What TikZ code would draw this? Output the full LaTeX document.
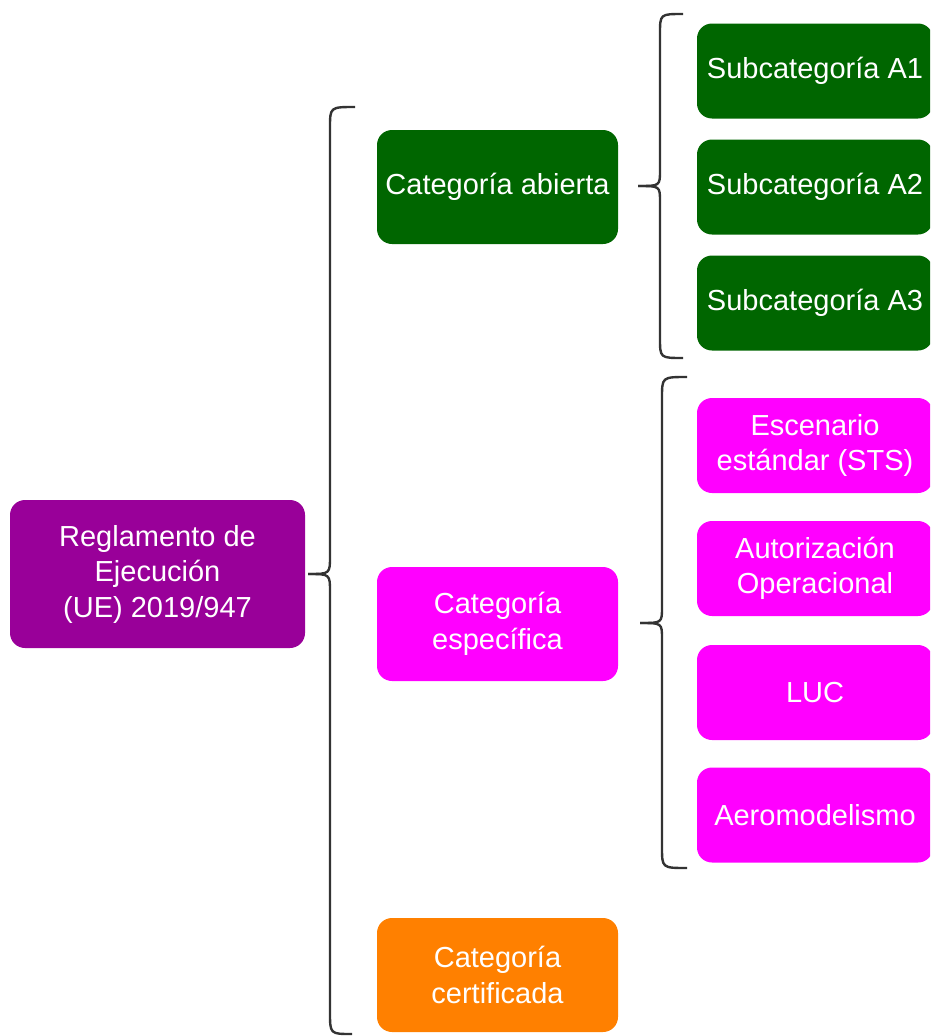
\documentclass[tikz,border=0pt]{standalone}
\usepackage{fontspec}
\setmainfont{Liberation Sans}
\begin{document}
\begin{tikzpicture}[x=1pt,y=-1pt,
  box/.style={draw=none, rounded corners=15pt, text=white, align=center,
    font=\fontsize{29}{35.5}\selectfont, inner sep=0pt},
  rootbox/.style={box, fill=rootc, minimum width=295pt, minimum height=148pt},
  catbox/.style={box, minimum width=241pt, minimum height=114pt},
  subbox/.style={box, minimum width=236pt, minimum height=95pt},
  bracec/.style={draw=bracecol, line width=2.4pt}]
\definecolor{rootc}{HTML}{990099}
\definecolor{greenc}{HTML}{006600}
\definecolor{magc}{HTML}{FF00FF}
\definecolor{orangec}{HTML}{FF8000}
\definecolor{bracecol}{HTML}{333333}
\useasboundingbox (0,0) rectangle (930,1036);
\clip (0,0) rectangle (930,1036);

\node[rootbox] (root) at (157.5,574) {Reglamento de\\Ejecución\\(UE) 2019/947};
\node[catbox, fill=greenc] (abierta) at (497.5,187) {Categoría abierta};
\node[catbox, fill=magc] (especifica) at (497.5,624) {Categoría\\específica};
\node[catbox, fill=orangec] (certificada) at (497.5,975) {Categoría\\certificada};

\node[subbox, fill=greenc] (a1) at (815,71) {Subcategoría A1};
\node[subbox, fill=greenc] (a2) at (815,187) {Subcategoría A2};
\node[subbox, fill=greenc] (a3) at (815,303) {Subcategoría A3};

\node[subbox, fill=magc] (sts) at (815,445.5) {Escenario\\estándar (STS)};
\node[subbox, fill=magc] (auto) at (815,568.5) {Autorización\\Operacional};
\node[subbox, fill=magc] (luc) at (815,692.5) {LUC};
\node[subbox, fill=magc] (aero) at (815,815) {Aeromodelismo};

% main brace
\coordinate (t0) at (308,574);
\draw[bracec] (355,107) .. controls (330,107) .. (330,128) -- (330,556)
  .. controls (330,574) .. (t0);
\draw[bracec] (t0) .. controls (330,574) .. (330,592) -- (330,1012)
  .. controls (330,1034) .. (352,1034);

% abierta brace
\coordinate (t1) at (638,186);
\draw[bracec] (683,14) .. controls (660,14) .. (660,34) -- (660,170)
  .. controls (660,186) .. (t1);
\draw[bracec] (t1) .. controls (660,186) .. (660,202) -- (660,338)
  .. controls (660,358) .. (683,358);

% especifica brace
\coordinate (t2) at (640,623);
\draw[bracec] (687,377) .. controls (662,377) .. (662,398) -- (662,607)
  .. controls (662,623) .. (t2);
\draw[bracec] (t2) .. controls (662,623) .. (662,639) -- (662,847)
  .. controls (662,868) .. (687,868);
\end{tikzpicture}
\end{document}
